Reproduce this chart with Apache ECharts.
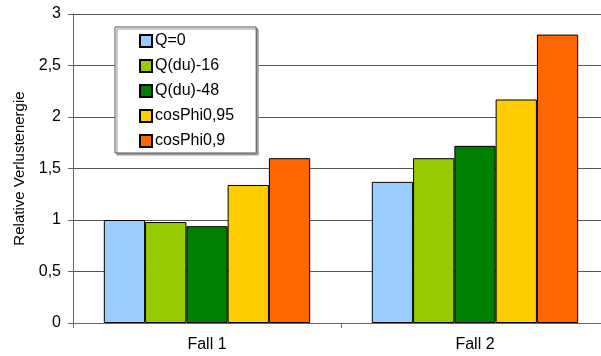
<!DOCTYPE html>
<html>
<head>
<meta charset="utf-8">
<script src="https://cdn.jsdelivr.net/npm/echarts@6/dist/echarts.min.js"></script>
<style>
  html, body { margin: 0; padding: 0; background: #fff; overflow: hidden; }
  /* a little wider than the window: the original plot is cut off at the right */
  #chart { width: 609px; height: 356px; }
</style>
</head>
<body>
<div id="chart"></div>
<script>
const categories = ["Fall 1", "Fall 2"];
const seriesNames = ["Q=0", "Q(du)-16", "Q(du)-48", "cosPhi0,95", "cosPhi0,9"];
const seriesColors = ["#99CCFF", "#99CC00", "#008000", "#FFCC00", "#FF6600"];
const q0 = [1.0, 1.37];
const qdu16 = [0.98, 1.6];
const qdu48 = [0.94, 1.72];
const cos095 = [1.34, 2.17];
const cos09 = [1.6, 2.8];
const seriesValues = [q0, qdu16, qdu48, cos095, cos09];

const chart = echarts.init(document.getElementById("chart"), null, { renderer: "canvas" });

const font = "Liberation Sans, Arial, sans-serif";

chart.setOption({
  animation: false,
  textStyle: { fontFamily: font },
  grid: { left: 73, right: 0, top: 14, bottom: 33 },
  legend: {
    orient: "vertical",
    left: 115,
    top: 27,
    padding: [6, 22, 4, 24],
    itemWidth: 12,
    itemHeight: 12,
    itemGap: 9,
    icon: "rect",
    backgroundColor: "#fff",
    borderColor: "#555",
    borderWidth: 1,
    shadowColor: "#999",
    shadowOffsetX: 2,
    shadowOffsetY: 2,
    shadowBlur: 0,
    textStyle: { fontSize: 16, color: "#000", fontFamily: font, padding: [0, 0, 0, -2] },
    data: seriesNames
  },
  xAxis: {
    type: "category",
    data: categories,
    axisLine: { lineStyle: { color: "#666", width: 1 } },
    axisTick: { show: true, length: 5, lineStyle: { color: "#666" } },
    axisLabel: { fontSize: 16, color: "#000", margin: 14 },
    splitLine: { show: false }
  },
  yAxis: {
    type: "value",
    min: 0,
    max: 3,
    interval: 0.5,
    name: "Relative Verlustenergie",
    nameLocation: "middle",
    nameGap: 43,
    nameTextStyle: { fontSize: 15, color: "#000" },
    axisLine: { show: true, lineStyle: { color: "#666" } },
    axisTick: { show: true, length: 5, lineStyle: { color: "#666" } },
    axisLabel: {
      fontSize: 16,
      color: "#000",
      margin: 12,
      formatter: v => String(v).replace(".", ",")
    },
    splitLine: { show: true, lineStyle: { color: "#555", width: 1 } }
  },
  series: seriesNames.map((name, i) => ({
    name: name,
    type: "bar",
    data: seriesValues[i],
    barGap: "0%",
    barCategoryGap: "23%",
    itemStyle: { color: seriesColors[i], borderColor: "#000", borderWidth: 1 }
  }))
});

window.addEventListener("resize", () => chart.resize());
</script>
</body>
</html>
